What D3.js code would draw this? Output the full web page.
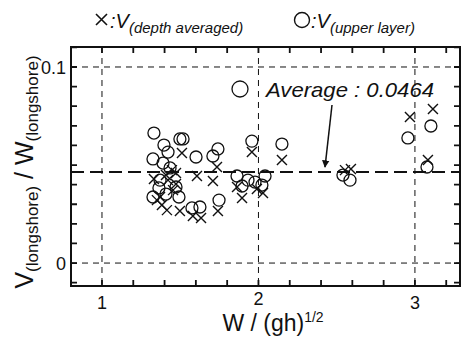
<!DOCTYPE html>
<html>
<head>
<meta charset="utf-8">
<script src="https://cdn.jsdelivr.net/npm/d3@7"></script>
<style>
  body { margin: 0; background: #fff; }
  text { font-family: "Liberation Sans", Arial, sans-serif; fill: #111; }
</style>
</head>
<body>
<div id="chart"></div>
<script>
// chart size
const width = 462;
const height = 339;

// data: W/(gh)^1/2 and V/W
const crossX = [1.511, 1.332, 1.409, 1.447, 1.473, 1.607, 1.709, 1.735, 1.473, 1.454,
                1.351, 1.383, 1.415, 1.498, 1.581, 1.633, 1.741, 1.863, 1.895, 1.958,
                1.990, 2.029, 2.150, 2.553, 2.591, 2.968, 3.115, 3.083, 1.371, 1.422];
const crossY = [0.0561, 0.0429, 0.0449, 0.0474, 0.0459, 0.0444, 0.0418, 0.0490, 0.0403, 0.0372,
                0.0321, 0.0296, 0.0270, 0.0265, 0.0240, 0.0230, 0.0265, 0.0388, 0.0332, 0.0566,
                0.0378, 0.0357, 0.0526, 0.0474, 0.0480, 0.0745, 0.0786, 0.0526, 0.0337, 0.0423];
const circleX = [1.332, 1.396, 1.422, 1.498, 1.518, 1.326, 1.390, 1.601, 1.709, 1.741,
                 1.364, 1.326, 1.409, 1.473, 1.492, 1.575, 1.626, 1.748, 1.863, 1.895,
                 1.933, 1.978, 2.022, 2.042, 1.958, 2.150, 2.540, 2.585, 2.955, 3.102,
                 3.077, 1.435, 1.371];
const circleY = [0.0663, 0.0602, 0.0566, 0.0633, 0.0633, 0.0531, 0.0510, 0.0541, 0.0546, 0.0582,
                 0.0383, 0.0337, 0.0352, 0.0388, 0.0337, 0.0281, 0.0286, 0.0321, 0.0444, 0.0393,
                 0.0423, 0.0413, 0.0398, 0.0444, 0.0622, 0.0607, 0.0449, 0.0423, 0.0638, 0.0699,
                 0.0490, 0.0485, 0.0423];
const average = 0.0464;
const xTicks = [1, 2, 3];
const yTicks = [0, 0.1];

const svg = d3.select("#chart").append("svg")
  .attr("width", width)
  .attr("height", height);

// scales (plot box 71..460 x 47..286)
const x = d3.scaleLinear().domain([0.802, 3.288]).range([71, 460]);
const y = d3.scaleLinear().domain([-0.0117, 0.1102]).range([286, 47]);
const [xLeft, xRight] = x.range();
const [yBottom, yTop] = y.range();

// dashed grid
svg.selectAll(".vgrid").data(xTicks).enter().append("line")
  .attr("x1", d => x(d)).attr("x2", d => x(d))
  .attr("y1", yTop).attr("y2", yBottom)
  .attr("stroke", "#111").attr("stroke-width", 1).attr("stroke-dasharray", "6,5");
svg.selectAll(".hgrid").data(yTicks).enter().append("line")
  .attr("x1", xLeft).attr("x2", xRight)
  .attr("y1", d => y(d)).attr("y2", d => y(d))
  .attr("stroke", "#111").attr("stroke-width", 1).attr("stroke-dasharray", "6,5");

// average line
svg.append("line")
  .attr("x1", xLeft).attr("x2", xRight)
  .attr("y1", y(average)).attr("y2", y(average))
  .attr("stroke", "#111").attr("stroke-width", 2).attr("stroke-dasharray", "13,6");

// frame
svg.append("rect")
  .attr("x", xLeft).attr("y", yTop)
  .attr("width", xRight - xLeft)
  .attr("height", yBottom - yTop)
  .attr("fill", "none").attr("stroke", "#111").attr("stroke-width", 2);

// inward minor ticks on all four sides
const minorX = d3.range(1, 3.3, 0.2);
const minorY = d3.range(-0.01, 0.111, 0.01);
const tk = 6;
const tickPath = d3.path();
minorX.forEach(v => {
  tickPath.moveTo(x(v), yBottom); tickPath.lineTo(x(v), yBottom - tk);
  tickPath.moveTo(x(v), yTop); tickPath.lineTo(x(v), yTop + tk);
});
minorY.forEach(v => {
  tickPath.moveTo(xLeft, y(v)); tickPath.lineTo(xLeft + tk, y(v));
  tickPath.moveTo(xRight, y(v)); tickPath.lineTo(xRight - tk, y(v));
});
svg.append("path").attr("d", tickPath.toString())
  .attr("fill", "none").attr("stroke", "#111").attr("stroke-width", 1.8);

// tick labels
svg.selectAll(".xlab").data(xTicks).enter().append("text")
  .attr("x", d => x(d)).attr("y", (d, i) => i === 1 ? 305 : 309)
  .attr("text-anchor", "middle").attr("font-size", 18)
  .text(d => d);
svg.selectAll(".ylab").data(yTicks).enter().append("text")
  .attr("x", 66).attr("y", d => y(d) + 7)
  .attr("text-anchor", "end").attr("font-size", 18)
  .text(d => d);

// points
svg.selectAll(".circ").data(circleX).enter().append("circle")
  .attr("cx", d => x(d)).attr("cy", (d, i) => y(circleY[i]))
  .attr("r", 6).attr("fill", "none").attr("stroke", "#111").attr("stroke-width", 1.3);
const s = 5;
svg.selectAll(".cross").data(crossX).enter().append("path")
  .attr("d", (d, i) => {
    const cx = x(d), cy = y(crossY[i]);
    return `M${cx - s},${cy - s}L${cx + s},${cy + s}M${cx - s},${cy + s}L${cx + s},${cy - s}`;
  })
  .attr("fill", "none").attr("stroke", "#111").attr("stroke-width", 1.4);

// legend
svg.append("path").attr("d", "M96,14L107,25M96,25L107,14")
  .attr("stroke", "#111").attr("stroke-width", 1.6);
const leg1 = svg.append("text").attr("x", 110).attr("y", 28).attr("font-size", 20).attr("font-style", "italic");
leg1.append("tspan").text(":V");
leg1.append("tspan").attr("dy", 5).attr("font-size", 15).text("(depth averaged)");
svg.append("circle").attr("cx", 302).attr("cy", 20).attr("r", 7.5)
  .attr("fill", "none").attr("stroke", "#111").attr("stroke-width", 1.4);
const leg2 = svg.append("text").attr("x", 311).attr("y", 28).attr("font-size", 20).attr("font-style", "italic");
leg2.append("tspan").text(":V");
leg2.append("tspan").attr("dy", 5).attr("font-size", 15).text("(upper layer)");

// annotation
svg.append("circle").attr("cx", 240).attr("cy", 89).attr("r", 8)
  .attr("fill", "none").attr("stroke", "#111").attr("stroke-width", 1.3);
svg.append("text").attr("x", 266).attr("y", 97).attr("font-size", 21).attr("font-style", "italic")
  .attr("textLength", 168).attr("lengthAdjust", "spacingAndGlyphs")
  .text("Average : " + average);
svg.append("defs").append("marker")
  .attr("id", "arrow").attr("viewBox", "0 0 10 10").attr("refX", 9).attr("refY", 5)
  .attr("markerWidth", 5).attr("markerHeight", 7).attr("orient", "auto")
  .append("path").attr("d", "M0,0L10,5L0,10Z").attr("fill", "#111");
svg.append("line")
  .attr("x1", 332).attr("y1", 105).attr("x2", 325).attr("y2", y(average) - 5)
  .attr("stroke", "#111").attr("stroke-width", 1.5).attr("marker-end", "url(#arrow)");

// axis titles
const xt = svg.append("text").attr("x", 273).attr("y", 331).attr("text-anchor", "middle").attr("font-size", 23);
xt.append("tspan").text("W / (gh)");
xt.append("tspan").attr("dy", -9).attr("font-size", 14).text("1/2");

const yt = svg.append("text")
  .attr("transform", "translate(33,172) rotate(-90)")
  .attr("text-anchor", "middle").attr("font-size", 25);
yt.append("tspan").text("V");
yt.append("tspan").attr("dy", 5).attr("font-size", 17).text("(longshore)");
yt.append("tspan").attr("dy", -5).text(" / W");
yt.append("tspan").attr("dy", 5).attr("font-size", 17).text("(longshore)");
</script>
</body>
</html>
